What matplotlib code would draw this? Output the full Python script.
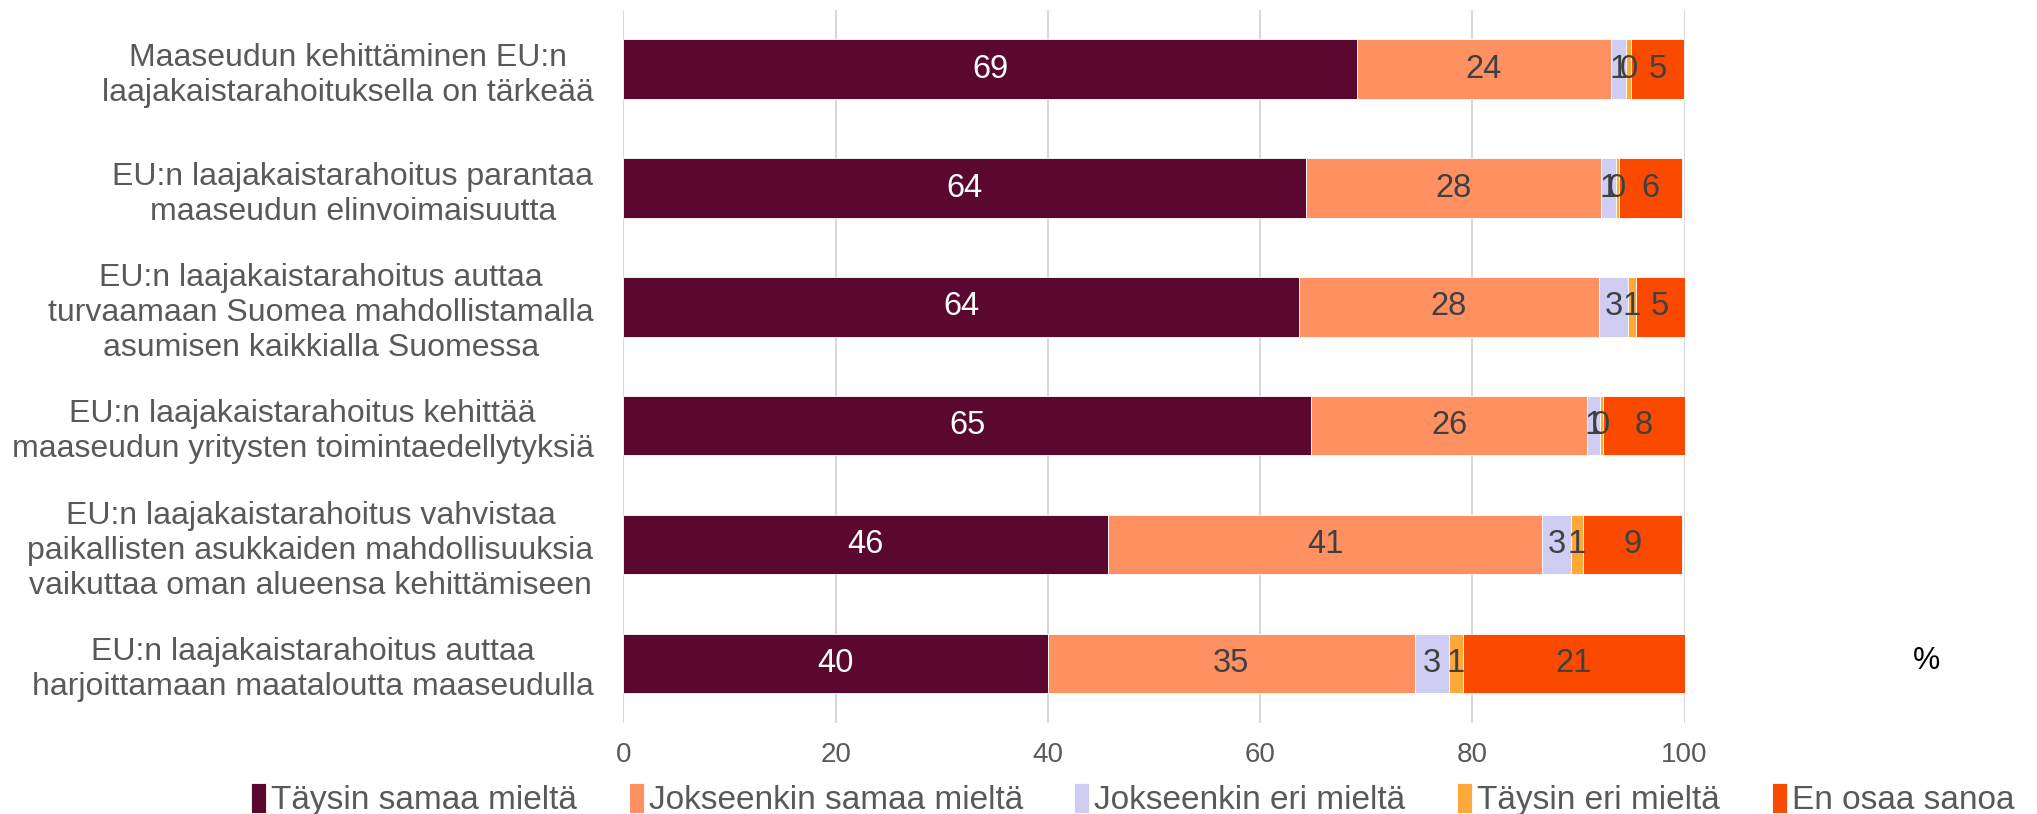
import matplotlib
matplotlib.use("Agg")
import matplotlib.pyplot as plt
import numpy as np
from matplotlib import font_manager

plt.rcParams['font.family'] = ['Liberation Sans', 'DejaVu Sans']

categories = [
    "Maaseudun kehittäminen EU:n\nlaajakaistarahoituksella on tärkeää",
    "EU:n laajakaistarahoitus parantaa\nmaaseudun elinvoimaisuutta",
    "EU:n laajakaistarahoitus auttaa\nturvaamaan Suomea mahdollistamalla\nasumisen kaikkialla Suomessa",
    "EU:n laajakaistarahoitus kehittää\nmaaseudun yritysten toimintaedellytyksiä",
    "EU:n laajakaistarahoitus vahvistaa\npaikallisten asukkaiden mahdollisuuksia\nvaikuttaa oman alueensa kehittämiseen",
    "EU:n laajakaistarahoitus auttaa\nharjoittamaan maataloutta maaseudulla",
]
series_names = ["Täysin samaa mieltä", "Jokseenkin samaa mieltä", "Jokseenkin eri mieltä",
                "Täysin eri mieltä", "En osaa sanoa"]
taysin_samaa = [69.1, 64.3, 63.7, 64.8, 45.7, 40.0]
jokseenkin_samaa = [24.0, 27.8, 28.2, 26.0, 40.9, 34.6]
jokseenkin_eri = [1.4, 1.4, 2.8, 1.2, 2.7, 3.2]
taysin_eri = [0.45, 0.3, 0.7, 0.3, 1.1, 1.3]
en_osaa = [5.0, 6.0, 4.6, 7.7, 9.4, 20.9]
x_ticks = [0, 20, 40, 60, 80, 100]

colors = ["#5A0830", "#FF9062", "#CFCDF3", "#FFA83A", "#F94A00"]
label_colors = ["white", "#404040", "#404040", "#404040", "#404040"]

names = {f.name for f in font_manager.fontManager.ttflist}
narrow = 'Liberation Sans Narrow' if 'Liberation Sans Narrow' in names else 'Liberation Sans'

fig = plt.figure(figsize=(20.37, 8.14), dpi=100)
ax = fig.add_axes([0.306, 0.112, 0.521, 0.876])

series = [taysin_samaa, jokseenkin_samaa, jokseenkin_eri, taysin_eri, en_osaa]
y = np.arange(len(categories))
left = np.zeros(len(categories))
for name, vals, c, lc in zip(series_names, series, colors, label_colors):
    vals = np.array(vals)
    ax.barh(y, vals, left=left, height=0.5, color=c, label=name,
            edgecolor='white', linewidth=0.6, zorder=3)
    for yi, (l, v) in enumerate(zip(left, vals)):
        ax.text(l + v / 2, yi, f"{v:.0f}", ha='center', va='center',
                color=lc, fontsize=23.5, zorder=4)
    left = left + vals

ax.set_ylim(len(categories) - 0.5, -0.5)
ax.set_xlim(0, 100)
ax.set_xticks(x_ticks)
ax.set_xticklabels([str(t) for t in x_ticks], family=[narrow, 'DejaVu Sans'])
ax.set_yticks(y)
ax.set_yticklabels(categories, multialignment='center', linespacing=1.22)
ax.tick_params(axis='y', length=0, pad=21.5, labelsize=23, labelcolor='#595959')
ax.tick_params(axis='x', length=0, pad=14, labelsize=20, labelcolor='#595959')
ax.grid(axis='x', color='#D9D9D9', linewidth=1.5, zorder=0)
for s in ax.spines.values():
    s.set_visible(False)

fig.text(1926 / 2037, 1 - 661 / 814, "%", fontsize=22, ha='center', va='center', color='black')

fig.legend(loc='center', bbox_to_anchor=(0.556, 0.018), ncol=5, frameon=False,
           fontsize=24, handlelength=0.45, handleheight=1.0, handletextpad=0.15,
           columnspacing=1.55, labelcolor='#595959', borderpad=0.1)

fig.savefig("out.png", dpi=100)
